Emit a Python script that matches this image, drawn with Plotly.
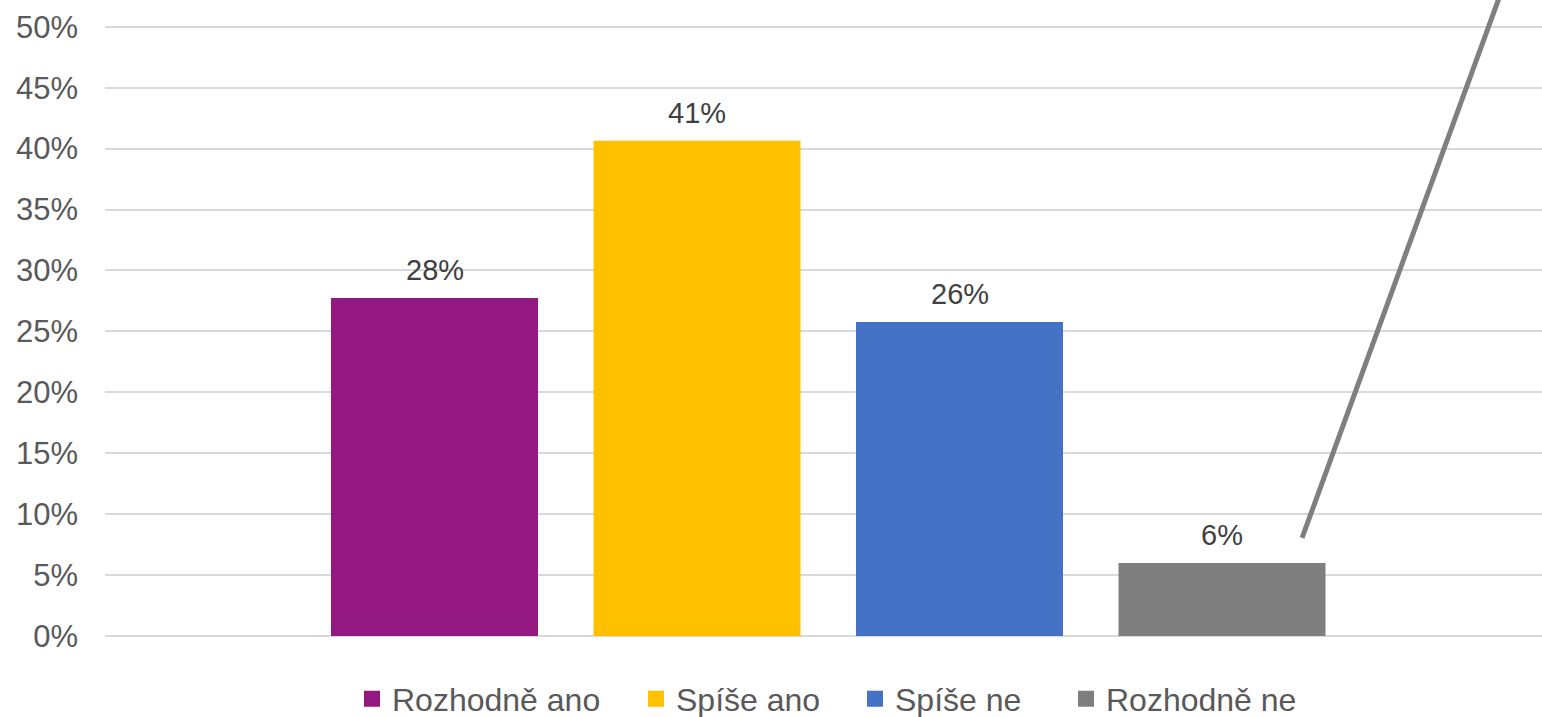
import plotly.graph_objects as go

categories = ["Rozhodně ano", "Spíše ano", "Spíše ne", "Rozhodně ne"]
values = [27.75, 40.64, 25.78, 5.99]
colors = ["#941881", "#FFC000", "#4472C4", "#7F7F7F"]
positions = [1, 2, 3, 4]
# leader line (grey): x in bar-position units, y in %
leader_x = [4.305, 5.10]
leader_y = [8.05, 55.0]
y_tickvals = [0, 5, 10, 15, 20, 25, 30, 35, 40, 45, 50]
y_ticktext = [f"{v}%" for v in y_tickvals]
# left edge of each legend text, in pixels of the 1542 px page
legend_text_x = [392, 676, 895, 1106]

FONT = "Arial, 'Liberation Sans', sans-serif"
W, H = 1542, 717

fig = go.Figure()
legend_ids = ["legend", "legend2", "legend3", "legend4"]
for cat, v, c, p, lid in zip(categories, values, colors, positions, legend_ids):
    fig.add_trace(go.Bar(
        x=[p], y=[v], name=cat, width=0.7886,
        marker=dict(color=c, line=dict(width=0)),
        showlegend=False,
    ))
    fig.add_trace(go.Scatter(
        x=[None], y=[None], name=cat, mode="markers",
        marker=dict(symbol="square", size=16, color=c),
        showlegend=True, legend=lid, hoverinfo="skip",
    ))
    fig.add_annotation(
        x=p, y=v, text=f"{round(v)}%", showarrow=False,
        yanchor="bottom", yshift=10,
        font=dict(family=FONT, size=29, color="#404040"),
    )

fig.add_trace(go.Scatter(
    x=leader_x, y=leader_y, mode="lines",
    line=dict(color="#7F7F7F", width=5),
    showlegend=False, hoverinfo="skip", cliponaxis=True,
))

legend_common = dict(
    orientation="h", xref="container", yref="container",
    xanchor="left", yanchor="middle", y=1 - 699 / H,
    font=dict(family=FONT, size=32, color="#595959"),
    bgcolor="rgba(0,0,0,0)", borderwidth=0,
)
legends = {}
for lid, tx in zip(legend_ids, legend_text_x):
    legends[lid] = dict(legend_common, x=(tx - 40) / W)

fig.update_layout(
    width=W, height=H,
    margin=dict(l=105, r=0, t=0, b=81, autoexpand=False),
    paper_bgcolor="white", plot_bgcolor="white",
    font=dict(family=FONT, size=31, color="#595959"),
    barmode="overlay",
    showlegend=True,
    xaxis=dict(
        range=[-0.2552, 5.219], showticklabels=False, showgrid=False,
        zeroline=False, showline=False, fixedrange=True,
    ),
    yaxis=dict(
        range=[0, 52.2], tickvals=y_tickvals, ticktext=y_ticktext,
        showgrid=True, gridcolor="#D9D9D9", gridwidth=2,
        zeroline=True, zerolinecolor="#D9D9D9", zerolinewidth=2,
        showline=False, ticks="", ticklabelstandoff=26,
        tickfont=dict(family=FONT, size=31, color="#595959"),
    ),
    **legends,
)

fig.write_html("out.html")
